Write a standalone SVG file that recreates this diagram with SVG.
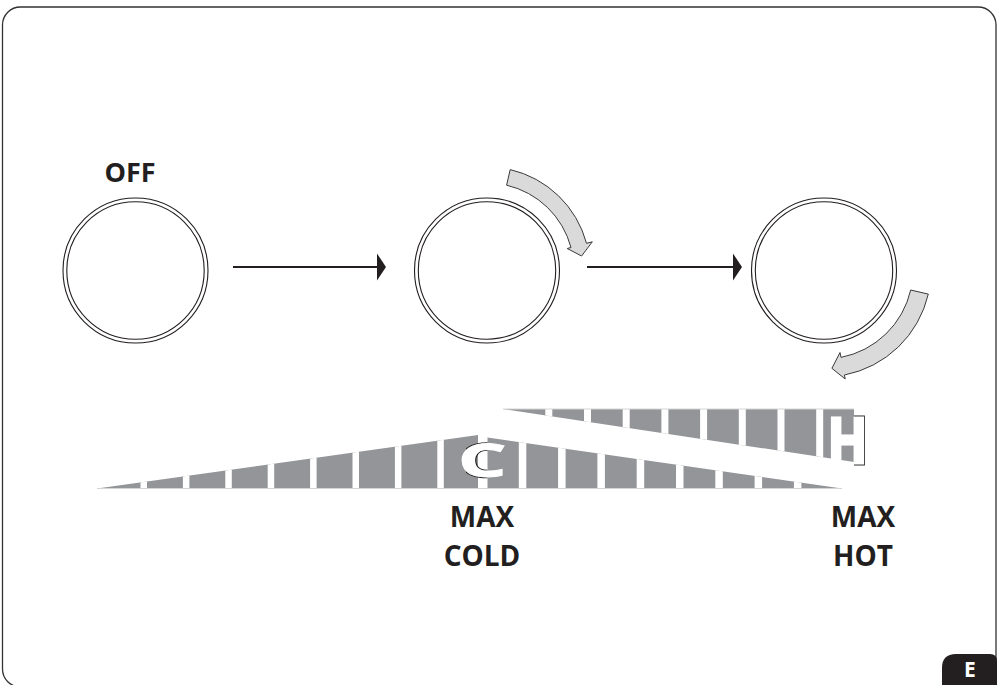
<svg xmlns="http://www.w3.org/2000/svg" width="998" height="685" viewBox="0 0 998 685">
<style>
.frame{fill:none;stroke:#333;stroke-width:1.3}
.ring{fill:none;stroke:#231f20;stroke-width:1.1}
.conn{stroke:#231f20;stroke-width:2;fill:none}
.head{fill:#231f20}
.rot{fill:#dadada;stroke:#3a3a3a;stroke-width:1}
.bar{fill:#939598}
.w{fill:#fff}
.base{stroke:#d4d4d4;stroke-width:1;fill:none}
.lbl{font-family:"Open Sans","DejaVu Sans",sans-serif;font-weight:700;fill:#231f20;text-anchor:middle}
.sym{font-family:"Open Sans","DejaVu Sans",sans-serif;font-weight:700}
</style>
<defs>
<clipPath id="cgap"><rect x="466" y="430" width="21.5" height="60"/></clipPath>
<clipPath id="hout"><rect x="854" y="400" width="30" height="80"/></clipPath>
<clipPath id="wl"><polygon points="97,488.5 478,435 478,488.5"/></clipPath>
<clipPath id="wr"><polygon points="487.5,437.5 842,488.5 487.5,488.5"/></clipPath>
<clipPath id="wu"><polygon points="503,409 854,409 854,462"/></clipPath>
</defs>
<rect id="frame" class="frame" x="2.5" y="7" width="993.5" height="680" rx="18"/>
<g id="badge">
<path d="M942,685 V668 Q942,654 956,654 H990 Q997,654 997,661 V685 Z" fill="#231f20"/>
<text class="sym" x="970" y="677" font-size="21" fill="#fff" text-anchor="middle">E</text>
</g>
<g id="dial-off">
<text class="lbl" x="130" y="182" font-size="27">OFF</text>
<circle class="ring" cx="135.5" cy="270.5" r="72.5"/>
<circle class="ring" cx="135.5" cy="270.5" r="68.7"/>
</g>
<g id="dial-cold">
<circle class="ring" cx="487" cy="270.5" r="72.5"/>
<circle class="ring" cx="487" cy="270.5" r="68.7"/>
<path class="rot" d="M510.2,169.6 A103,103 0 0 1 586.5,243.3 L592.3,241.8 L581.6,256 L567.2,248.5 L571,247.5 A87,87 0 0 0 506.6,185.2 Z"/>
</g>
<g id="dial-hot">
<circle class="ring" cx="824" cy="270.5" r="72.5"/>
<circle class="ring" cx="824" cy="270.5" r="68.7"/>
<path class="rot" d="M928.3,294.1 A107,107 0 0 1 844.4,375 L845.2,379 L831.9,368.3 L840,352.5 L841,357.4 A89,89 0 0 0 910.7,290 Z"/>
</g>
<g id="connectors">
<line class="conn" x1="233" y1="267" x2="378" y2="267"/>
<polygon class="head" points="377,253.5 386,267 377,280.5"/>
<line class="conn" x1="587" y1="267" x2="734" y2="267"/>
<polygon class="head" points="733,253.5 742,267 733,280.5"/>
</g>
<g id="scale">
<g clip-path="url(#wl)">
<rect class="bar" x="90" y="420" width="400" height="80"/>
<rect class="w" x="140.5" y="420" width="6.5" height="80"/>
<rect class="w" x="182.9" y="420" width="6.5" height="80"/>
<rect class="w" x="225.3" y="420" width="6.5" height="80"/>
<rect class="w" x="267.7" y="420" width="6.5" height="80"/>
<rect class="w" x="310.1" y="420" width="6.5" height="80"/>
<rect class="w" x="352.5" y="420" width="6.5" height="80"/>
<rect class="w" x="394.9" y="420" width="6.5" height="80"/>
<rect class="w" x="437.3" y="420" width="6.5" height="80"/>
</g>
<g clip-path="url(#wr)">
<rect class="bar" x="480" y="420" width="370" height="80"/>
<rect class="w" x="518.8" y="420" width="7.5" height="80"/>
<rect class="w" x="558.1" y="420" width="7.5" height="80"/>
<rect class="w" x="597.4" y="420" width="7.5" height="80"/>
<rect class="w" x="636.7" y="420" width="7.5" height="80"/>
<rect class="w" x="676" y="420" width="7.5" height="80"/>
<rect class="w" x="715.3" y="420" width="7.5" height="80"/>
<rect class="w" x="754.6" y="420" width="7.5" height="80"/>
<rect class="w" x="793.9" y="420" width="7.5" height="80"/>
</g>
<g clip-path="url(#wu)">
<rect class="bar" x="500" y="400" width="360" height="70"/>
<rect class="w" x="545.3" y="400" width="7" height="70"/>
<rect class="w" x="584" y="400" width="7" height="70"/>
<rect class="w" x="622.7" y="400" width="7" height="70"/>
<rect class="w" x="661.4" y="400" width="7" height="70"/>
<rect class="w" x="700.1" y="400" width="7" height="70"/>
<rect class="w" x="738.8" y="400" width="7" height="70"/>
<rect class="w" x="777.5" y="400" width="7" height="70"/>
<rect class="w" x="816.2" y="400" width="7" height="70"/>
</g>
<line class="base" x1="97" y1="488.5" x2="842" y2="488.5"/>
<line class="base" x1="503" y1="409" x2="854" y2="409"/>
<g id="cold-mark">
<text class="sym" x="458" y="477" font-size="47" textLength="48.5" lengthAdjust="spacingAndGlyphs" fill="#231f20" stroke="#231f20" stroke-width="2.6" clip-path="url(#cgap)">C</text>
<text class="sym" x="458" y="477" font-size="47" textLength="48.5" lengthAdjust="spacingAndGlyphs" fill="#fff" stroke="#fff" stroke-width="1">C</text>
</g>
<g id="hot-mark">
<text class="sym" x="827.5" y="462.5" font-size="62" textLength="40" lengthAdjust="spacingAndGlyphs" fill="#231f20" stroke="#231f20" stroke-width="5" clip-path="url(#hout)">H</text>
<text class="sym" x="827.5" y="462.5" font-size="62" textLength="40" lengthAdjust="spacingAndGlyphs" fill="#fff" stroke="#fff" stroke-width="3">H</text>
</g>
</g>
<g id="label-cold">
<text class="lbl" x="482" y="527" font-size="28">MAX</text>
<text class="lbl" x="482" y="566" font-size="28">COLD</text>
</g>
<g id="label-hot">
<text class="lbl" x="863" y="527" font-size="28">MAX</text>
<text class="lbl" x="863" y="566" font-size="28">HOT</text>
</g>
</svg>
